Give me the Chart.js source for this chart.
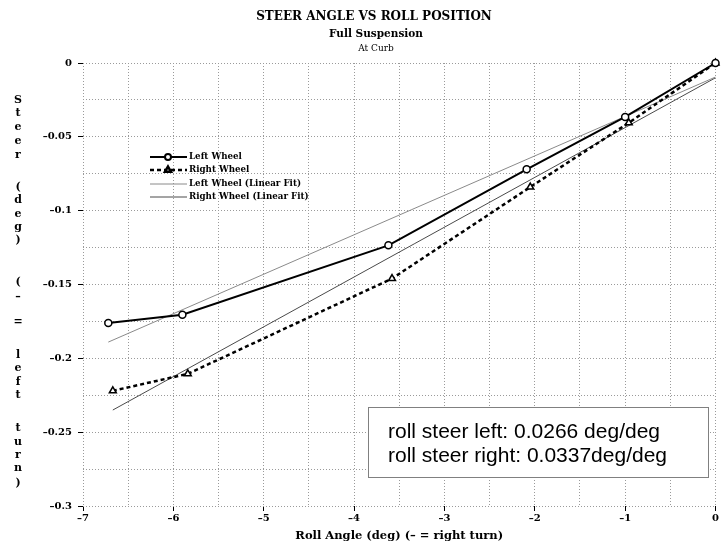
<!DOCTYPE html>
<html>
<head>
<meta charset="utf-8">
<script src="https://cdn.jsdelivr.net/npm/chart.js@4.4.1/dist/chart.umd.min.js"></script>
<style>
  html, body { margin: 0; padding: 0; background: #fff; }
</style>
</head>
<body>
<canvas id="steerChart" width="721" height="550"></canvas>
<script>
// values: roll angle (deg) and steer (deg)
const leftRoll = [-6.72, -5.90, -3.62, -2.09, -1.00, 0];
const leftSteer = [-0.176, -0.1705, -0.1235, -0.0720, -0.0365, 0];
const rightRoll = [-6.67, -5.84, -3.58, -2.05, -0.96, 0];
const rightSteer = [-0.222, -0.2105, -0.146, -0.084, -0.0405, 0];

// linear fit lines (end points)
const leftFitRoll = [-6.72, 0];
const leftFitSteer = [-0.189, -0.0095];
const rightFitRoll = [-6.67, 0];
const rightFitSteer = [-0.235, -0.010];

const seriesNames = ['Left Wheel', 'Right Wheel', 'Left Wheel (Linear Fit)', 'Right Wheel (Linear Fit)'];
const titleLines = ['STEER ANGLE VS ROLL POSITION', 'Full Suspension', 'At Curb'];
const noteLines = ['roll steer left: 0.0266 deg/deg', 'roll steer right: 0.0337deg/deg'];
const xTitle = 'Roll Angle (deg) (\u2013 = right turn)';
// y title is written one character per row
const yTitleRows = [['S', 100], ['t', 113], ['e', 127], ['e', 141], ['r', 155],
  ['(', 187], ['d', 200], ['e', 214], ['g', 227], [')', 240],
  ['(', 282], ['\u2013', 297], ['=', 322],
  ['l', 355], ['e', 368], ['f', 382], ['t', 395],
  ['t', 428], ['u', 442], ['r', 455], ['n', 468], [')', 483]];

const serif = '"DejaVu Serif", "Liberation Serif", serif';

function pairs(xs, ys) {
    return xs.map((x, i) => ({ x: x, y: ys[i] }));
}

function isMultiple(v, step) {
    return Math.abs(v / step - Math.round(v / step)) < 1e-6;
}

function fmt(v) {
    if (Math.abs(v) < 1e-9) return '0';
    return String(+v.toFixed(3)).replace('-', '\u2013');
}

// titles, y title, legend and the note box
const decorPlugin = {
    id: 'decor',
    afterDraw(chart) {
        const ctx = chart.ctx;
        ctx.save();
        ctx.fillStyle = '#000';
        ctx.textAlign = 'center';
        ctx.textBaseline = 'middle';
        ctx.font = 'bold 12px ' + serif;
        ctx.fillText(titleLines[0], 374, 17);
        ctx.font = 'bold 10.5px ' + serif;
        ctx.fillText(titleLines[1], 376, 34);
        ctx.font = '9px ' + serif;
        ctx.fillText(titleLines[2], 376, 49);

        ctx.font = 'bold 11px ' + serif;
        yTitleRows.forEach(r => ctx.fillText(r[0], 18, r[1]));

        // legend
        const rows = [157, 170, 184, 197];
        chart.data.datasets.forEach((ds, i) => {
            const y = rows[i];
            ctx.save();
            ctx.strokeStyle = ds.borderColor;
            ctx.lineWidth = ds.borderWidth;
            ctx.setLineDash(ds.borderDash || []);
            ctx.beginPath();
            ctx.moveTo(150, y);
            ctx.lineTo(187, y);
            ctx.stroke();
            ctx.setLineDash([]);
            if (ds.pointRadius > 0) {
                ctx.fillStyle = '#fff';
                ctx.strokeStyle = '#000';
                Chart.helpers.drawPoint(ctx, {
                    pointStyle: ds.pointStyle, radius: ds.pointRadius - 0.5,
                    borderWidth: ds.pointBorderWidth, rotation: 0
                }, 168, y);
            }
            ctx.restore();
            ctx.fillStyle = '#000';
            ctx.textAlign = 'left';
            ctx.font = 'bold 8.7px ' + serif;
            ctx.fillText(ds.label, 189, y);
        });

        // note box
        ctx.fillStyle = '#fff';
        ctx.fillRect(368, 407, 340, 71);
        ctx.strokeStyle = '#000';
        ctx.lineWidth = 1;
        ctx.setLineDash([1, 1]);
        ctx.strokeRect(368.5, 407.5, 340, 70);
        ctx.setLineDash([]);
        ctx.fillStyle = '#000';
        ctx.textAlign = 'left';
        ctx.font = '21px "Liberation Sans", Arial, sans-serif';
        ctx.fillText(noteLines[0], 388, 432);
        ctx.fillText(noteLines[1], 388, 456);
        ctx.restore();
    }
};

const gridOpts = {
    color: '#9a9a9a',
    lineWidth: 1,
    tickLength: 5,
    tickWidth: 1,
    tickBorderDash: []
};

new Chart(document.getElementById('steerChart'), {
    type: 'line',
    data: {
        datasets: [{
            label: seriesNames[0],
            data: pairs(leftRoll, leftSteer),
            borderColor: '#000',
            borderWidth: 2,
            pointStyle: 'circle',
            pointRadius: 3.5,
            pointBorderWidth: 1.5,
            pointBackgroundColor: '#fff',
            pointBorderColor: '#000',
            clip: false
        }, {
            label: seriesNames[1],
            data: pairs(rightRoll, rightSteer),
            borderColor: '#000',
            borderWidth: 2.5,
            borderDash: [4, 3],
            pointStyle: 'triangle',
            pointRadius: 4,
            pointBorderWidth: 1.5,
            pointBackgroundColor: '#fff',
            pointBorderColor: '#000',
            clip: false
        }, {
            label: seriesNames[2],
            data: pairs(leftFitRoll, leftFitSteer),
            borderColor: '#8a8a8a',
            borderWidth: 1,
            pointRadius: 0
        }, {
            label: seriesNames[3],
            data: pairs(rightFitRoll, rightFitSteer),
            borderColor: '#4a4a4a',
            borderWidth: 1,
            pointRadius: 0
        }]
    },
    options: {
        responsive: false,
        animation: false,
        layout: { padding: { top: 63, right: 2, bottom: 0, left: 0 } },
        plugins: {
            legend: { display: false },
            title: { display: false },
            tooltip: { enabled: false }
        },
        scales: {
            x: {
                type: 'linear',
                min: -7,
                max: 0,
                afterFit(s) { s.height = 44; s.paddingLeft = 0; s.paddingRight = 0; },
                ticks: {
                    stepSize: 0.5,
                    autoSkip: false,
                    maxRotation: 0,
                    padding: 1,
                    color: '#000',
                    font: { family: serif, weight: 'bold', size: 10 },
                    callback: v => isMultiple(v, 1) ? fmt(v) : ''
                },
                grid: Object.assign({}, gridOpts, {
                    tickColor: c => (c.tick && isMultiple(c.tick.value, 1)) ? '#000' : 'rgba(0,0,0,0)'
                }),
                border: { display: false, dash: [1, 2] },
                title: {
                    display: true,
                    text: xTitle,
                    color: '#000',
                    font: { family: serif, weight: 'bold', size: 11.5 },
                    padding: { top: 2, bottom: 7 }
                }
            },
            y: {
                min: -0.3,
                max: 0,
                afterFit(s) { s.width = 83; s.paddingTop = 0; s.paddingBottom = 0; },
                ticks: {
                    stepSize: 0.025,
                    autoSkip: false,
                    padding: 6,
                    color: '#000',
                    font: { family: serif, weight: 'bold', size: 10 },
                    callback: v => isMultiple(v, 0.05) ? fmt(v) : ''
                },
                grid: Object.assign({}, gridOpts, {
                    tickColor: c => (c.tick && isMultiple(c.tick.value, 0.05)) ? '#000' : 'rgba(0,0,0,0)'
                }),
                border: { display: false, dash: [1, 2] }
            }
        }
    },
    plugins: [decorPlugin]
});
</script>
</body>
</html>
